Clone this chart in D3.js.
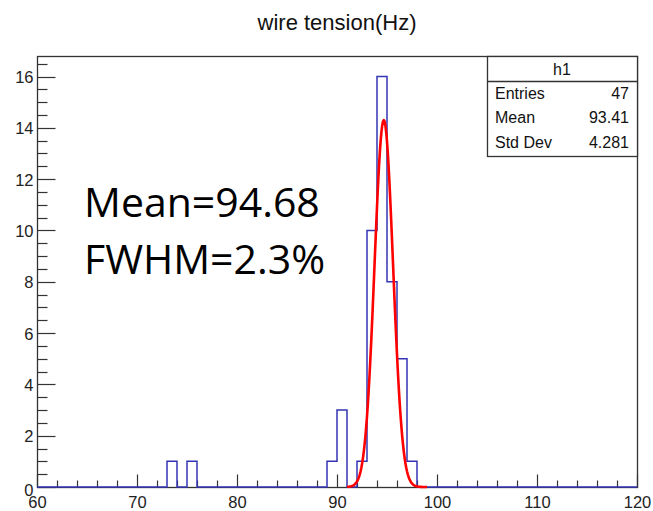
<!DOCTYPE html>
<html>
<head>
<meta charset="utf-8">
<script src="https://cdn.jsdelivr.net/npm/d3@7"></script>
<style>
  html, body { margin: 0; padding: 0; background: #fff; }
  svg { display: block; }
</style>
</head>
<body>
<svg id="chart" width="653" height="511"></svg>
<script>
// Histogram h1: 1 Hz bins from 60 to 120, only non-empty bins listed
const binLow = [73, 75, 89, 90, 92, 93, 94, 95, 96, 97];
const counts = [1, 1, 1, 3, 1, 10, 16, 8, 5, 1];
const xRange = [60, 120];
const binWidth = 1;

// Gaussian fit shown in red
const fitConstant = 14.3;
const fitMean = 94.68;
const fitSigma = 0.925;
const fitRange = [91, 99];

// Axis ticks
const xMajor = [60, 70, 80, 90, 100, 110, 120];
const yMajor = [0, 2, 4, 6, 8, 10, 12, 14, 16];
const yMax = 16.8;

// Statistics box
const statLabels = ["Entries", "Mean", "Std Dev"];
const statValues = ["47", "93.41", "4.281"];

const title = "wire tension(Hz)";
const notes = ["Mean=94.68", "FWHM=2.3%"];

const svg = d3.select("#chart");
const frame = { left: 37, right: 637, top: 56, bottom: 487 };

const x = d3.scaleLinear().domain(xRange).range([frame.left, frame.right]);
const y = d3.scaleLinear().domain([0, yMax]).range([frame.bottom, frame.top]);

const axisColor = "#333";
const font = "'Liberation Sans', Arial, Helvetica, sans-serif";

// Title
svg.append("text")
  .attr("x", 337).attr("y", 30)
  .attr("text-anchor", "middle")
  .attr("font-family", font).attr("font-size", 22)
  .attr("fill", "#111")
  .text(title);

// Frame
svg.append("rect")
  .attr("x", frame.left + 0.5).attr("y", frame.top + 0.5)
  .attr("width", frame.right - frame.left).attr("height", frame.bottom - frame.top)
  .attr("fill", "none").attr("stroke", axisColor).attr("stroke-width", 1.3);

// X axis ticks
const nBins = Math.round((xRange[1] - xRange[0]) / binWidth);
const xMinor = d3.range(xRange[0], xRange[1] + 0.001, 2).filter(v => !xMajor.includes(v));
const gx = svg.append("g").attr("transform", `translate(0.5,${frame.bottom + 0.5})`);
gx.selectAll("line.maj").data(xMajor).join("line")
  .attr("x1", d => Math.round(x(d))).attr("x2", d => Math.round(x(d)))
  .attr("y1", 0).attr("y2", -13)
  .attr("stroke", axisColor).attr("stroke-width", 1.2);
gx.selectAll("line.min").data(xMinor).join("line")
  .attr("x1", d => Math.round(x(d))).attr("x2", d => Math.round(x(d)))
  .attr("y1", 0).attr("y2", -7)
  .attr("stroke", axisColor).attr("stroke-width", 1.2);
gx.selectAll("text").data(xMajor).join("text")
  .attr("x", d => x(d)).attr("y", 20)
  .attr("text-anchor", "middle")
  .attr("font-family", font).attr("font-size", 16.5)
  .attr("fill", "#222")
  .text(d => d);

// Y axis ticks
const yMinor = d3.range(0.5, yMax, 0.5).filter(v => !yMajor.includes(v));
const gy = svg.append("g").attr("transform", `translate(${frame.left + 0.5},0.5)`);
gy.selectAll("line.maj").data(yMajor).join("line")
  .attr("x1", 0).attr("x2", 18)
  .attr("y1", d => Math.round(y(d))).attr("y2", d => Math.round(y(d)))
  .attr("stroke", axisColor).attr("stroke-width", 1.2);
gy.selectAll("line.min").data(yMinor).join("line")
  .attr("x1", 0).attr("x2", 10)
  .attr("y1", d => Math.round(y(d))).attr("y2", d => Math.round(y(d)))
  .attr("stroke", axisColor).attr("stroke-width", 1.2);
gy.selectAll("text").data(yMajor).join("text")
  .attr("x", -4).attr("y", d => y(d) + 6 + (d === 0 ? 2 : 0))
  .attr("text-anchor", "end")
  .attr("font-family", font).attr("font-size", 16.5)
  .attr("fill", "#222")
  .text(d => d);

// Histogram outline (step path across all bins)
const full = new Array(nBins).fill(0);
binLow.forEach((b, i) => { full[Math.round((b - xRange[0]) / binWidth)] = counts[i]; });
const pts = [];
full.forEach((c, i) => {
  const lo = xRange[0] + i * binWidth;
  pts.push([x(lo), y(c)]);
  pts.push([x(lo + binWidth), y(c)]);
});
svg.append("path")
  .attr("d", d3.line()(pts))
  .attr("fill", "none")
  .attr("stroke", "#3434b4")
  .attr("stroke-width", 1.5);

// Gaussian fit curve
const nPts = 100;
const fitPts = d3.range(nPts + 1).map(i => {
  const v = fitRange[0] + (fitRange[1] - fitRange[0]) * i / nPts;
  const g = fitConstant * Math.exp(-0.5 * Math.pow((v - fitMean) / fitSigma, 2));
  return [x(v), y(g)];
});
svg.append("path")
  .attr("d", d3.line()(fitPts))
  .attr("fill", "none")
  .attr("stroke", "#ff0000")
  .attr("stroke-width", 2.6)
  .attr("stroke-linejoin", "round");

// Statistics box
const box = { x: 487, y: 56, w: 150, h: 100, head: 25 };
const gs = svg.append("g");
gs.append("rect")
  .attr("x", box.x + 0.5).attr("y", box.y + 0.5)
  .attr("width", box.w).attr("height", box.h)
  .attr("fill", "#fff").attr("stroke", axisColor).attr("stroke-width", 1.3);
gs.append("line")
  .attr("x1", box.x).attr("x2", box.x + box.w)
  .attr("y1", box.y + box.head + 0.5).attr("y2", box.y + box.head + 0.5)
  .attr("stroke", axisColor).attr("stroke-width", 1.3);
gs.append("text")
  .attr("x", box.x + box.w / 2).attr("y", box.y + 19)
  .attr("text-anchor", "middle")
  .attr("font-family", font).attr("font-size", 16)
  .attr("fill", "#111")
  .text("h1");
statLabels.forEach((lab, i) => {
  const ty = box.y + box.head + 18 + i * 24.3;
  gs.append("text")
    .attr("x", box.x + 8).attr("y", ty)
    .attr("font-family", font).attr("font-size", 16)
    .attr("fill", "#111").text(lab);
  gs.append("text")
    .attr("x", box.x + box.w - 8).attr("y", ty)
    .attr("text-anchor", "end")
    .attr("font-family", font).attr("font-size", 16)
    .attr("fill", "#111").text(statValues[i]);
});

// Fit summary annotation
notes.forEach((t, i) => {
  svg.append("text")
    .attr("x", 84).attr("y", 217 + i * 57)
    .attr("font-family", "'Open Sans', 'Noto Sans', sans-serif")
    .attr("font-size", 41)
    .attr("fill", "#000")
    .text(t);
});
</script>
</body>
</html>
